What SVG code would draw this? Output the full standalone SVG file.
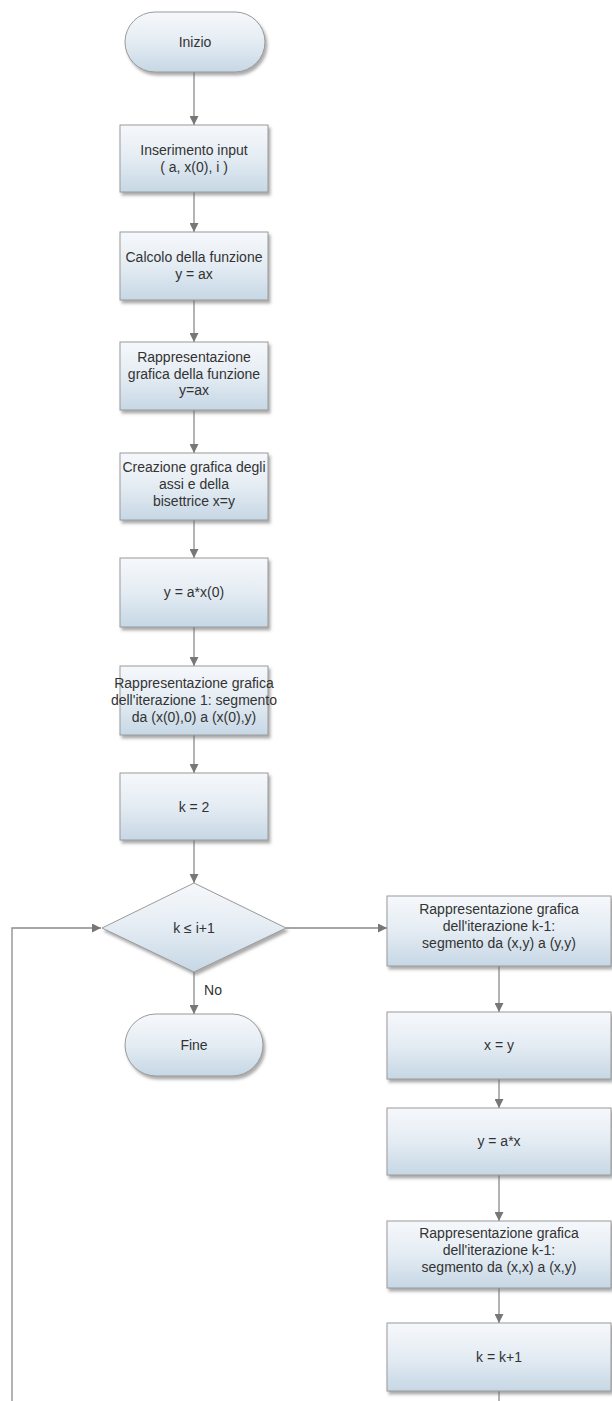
<svg xmlns="http://www.w3.org/2000/svg" width="612" height="1401" viewBox="0 0 612 1401">
<style>
.box{fill:url(#g);stroke:#9a9a9a;stroke-width:1;filter:url(#sh)}
.t{font-family:"Liberation Sans",Arial,sans-serif;font-size:14px;fill:#333;text-anchor:middle}
.c{fill:none;stroke:#8a8a8a;stroke-width:1.3}
</style>
<defs>
<linearGradient id="g" x1="0" y1="0" x2="0" y2="1">
<stop offset="0" stop-color="#f6f8fb"/>
<stop offset="0.5" stop-color="#e4ecf3"/>
<stop offset="1" stop-color="#c6d7e5"/>
</linearGradient>
<filter id="sh" x="-10%" y="-10%" width="125%" height="130%">
<feDropShadow dx="2" dy="3" stdDeviation="1.5" flood-color="#666" flood-opacity="0.55"/>
</filter>
<marker id="a" viewBox="0 0 10 10" refX="10" refY="5" markerWidth="9" markerHeight="9" orient="auto" markerUnits="userSpaceOnUse">
<path d="M0,0 L10,5 L0,10 z" fill="#777"/>
</marker>
</defs>
<rect width="612" height="1401" fill="#fff"/>

<g id="connectors">
<line class="c" x1="194" y1="72" x2="194" y2="125" marker-end="url(#a)"/>
<line class="c" x1="194" y1="192" x2="194" y2="232" marker-end="url(#a)"/>
<line class="c" x1="194" y1="300" x2="194" y2="342" marker-end="url(#a)"/>
<line class="c" x1="194" y1="410" x2="194" y2="453" marker-end="url(#a)"/>
<line class="c" x1="194" y1="520" x2="194" y2="558" marker-end="url(#a)"/>
<line class="c" x1="194" y1="627" x2="194" y2="666" marker-end="url(#a)"/>
<line class="c" x1="194" y1="735" x2="194" y2="773" marker-end="url(#a)"/>
<line class="c" x1="194" y1="840" x2="194" y2="883" marker-end="url(#a)"/>
<line class="c" x1="286" y1="928" x2="387" y2="928" marker-end="url(#a)"/>
<line class="c" x1="194" y1="972" x2="194" y2="1014" marker-end="url(#a)"/>
<text class="t" x="213" y="995">No</text>
<line class="c" x1="499" y1="966" x2="499" y2="1012" marker-end="url(#a)"/>
<line class="c" x1="499" y1="1079" x2="499" y2="1108" marker-end="url(#a)"/>
<line class="c" x1="499" y1="1175" x2="499" y2="1221" marker-end="url(#a)"/>
<line class="c" x1="499" y1="1288" x2="499" y2="1323" marker-end="url(#a)"/>
<line class="c" x1="499" y1="1391" x2="499" y2="1401"/>
<polyline class="c" points="12,1401 12,928 101,928" marker-end="url(#a)"/>
</g>

<g id="inizio">
<rect class="box" x="125" y="12" width="140" height="60" rx="30"/>
<text class="t" x="195" y="47">Inizio</text>
</g>
<g id="input">
<rect class="box" x="120" y="125" width="148" height="67"/>
<text class="t" x="194" y="155">Inserimento input</text>
<text class="t" x="194" y="172">( a, x(0), i )</text>
</g>
<g id="calcolo">
<rect class="box" x="120" y="232" width="148" height="68"/>
<text class="t" x="194" y="262">Calcolo della funzione</text>
<text class="t" x="194" y="279">y = ax</text>
</g>
<g id="rappr-funzione">
<rect class="box" x="120" y="342" width="148" height="68"/>
<text class="t" x="194" y="362">Rappresentazione</text>
<text class="t" x="194" y="379">grafica della funzione</text>
<text class="t" x="194" y="395">y=ax</text>
</g>
<g id="assi">
<rect class="box" x="120" y="453" width="148" height="67"/>
<text class="t" x="194" y="472">Creazione grafica degli</text>
<text class="t" x="194" y="489">assi e della</text>
<text class="t" x="194" y="506">bisettrice x=y</text>
</g>
<g id="y0">
<rect class="box" x="120" y="558" width="148" height="69"/>
<text class="t" x="194" y="597">y = a*x(0)</text>
</g>
<g id="iter1">
<rect class="box" x="120" y="666" width="148" height="69"/>
<text class="t" x="194" y="688">Rappresentazione grafica</text>
<text class="t" x="194" y="705">dell'iterazione 1: segmento</text>
<text class="t" x="194" y="722">da (x(0),0) a (x(0),y)</text>
</g>
<g id="k2">
<rect class="box" x="120" y="773" width="148" height="67"/>
<text class="t" x="194" y="812">k = 2</text>
</g>
<g id="cond">
<polygon class="box" points="194,883 286,928 194,972 102,928"/>
<text class="t" x="194" y="933">k ≤ i+1</text>
</g>
<g id="fine">
<rect class="box" x="125" y="1014" width="138" height="62" rx="31"/>
<text class="t" x="194" y="1050">Fine</text>
</g>
<g id="rappr-xy">
<rect class="box" x="387" y="896" width="224" height="70"/>
<text class="t" x="499" y="914">Rappresentazione grafica</text>
<text class="t" x="499" y="931">dell'iterazione k-1:</text>
<text class="t" x="499" y="948">segmento da (x,y) a (y,y)</text>
</g>
<g id="xy">
<rect class="box" x="387" y="1012" width="224" height="67"/>
<text class="t" x="499" y="1050">x = y</text>
</g>
<g id="yax">
<rect class="box" x="387" y="1108" width="224" height="67"/>
<text class="t" x="499" y="1146">y = a*x</text>
</g>
<g id="rappr-xx">
<rect class="box" x="387" y="1221" width="224" height="67"/>
<text class="t" x="499" y="1238">Rappresentazione grafica</text>
<text class="t" x="499" y="1255">dell'iterazione k-1:</text>
<text class="t" x="499" y="1272">segmento da (x,x) a (x,y)</text>
</g>
<g id="kinc">
<rect class="box" x="387" y="1323" width="224" height="68"/>
<text class="t" x="499" y="1362">k = k+1</text>
</g>
</svg>
